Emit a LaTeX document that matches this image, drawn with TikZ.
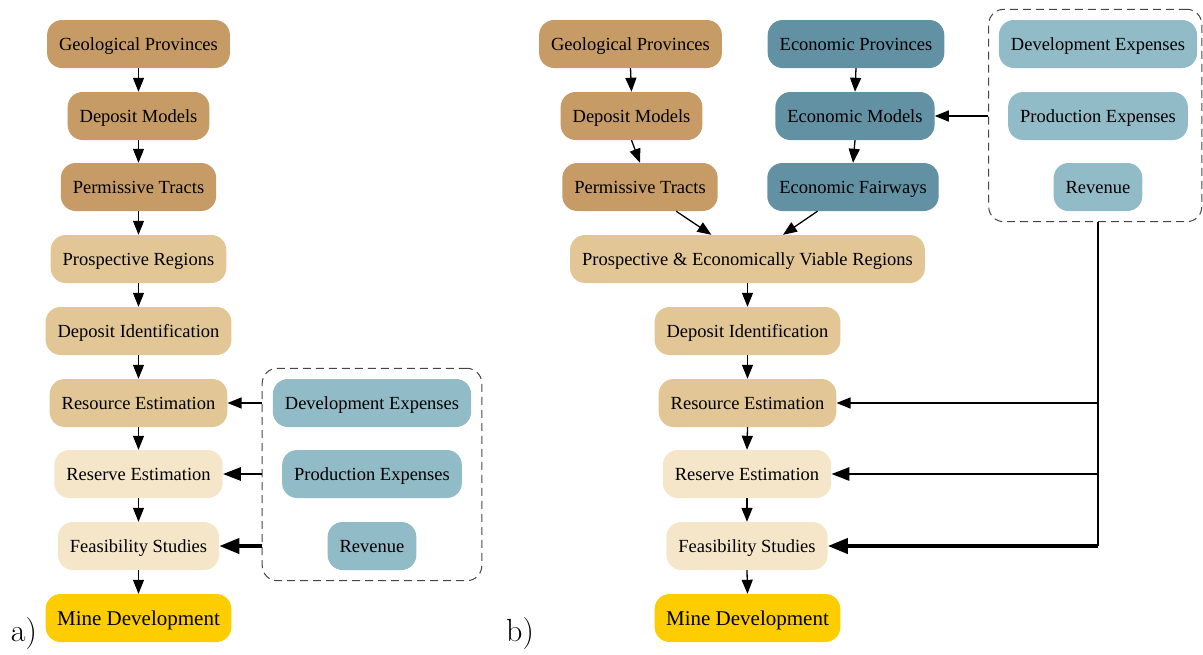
\documentclass[tikz,border=0pt]{standalone}
\usepackage{fontspec}
\newfontfamily\tnr{Liberation Serif}
\usetikzlibrary{arrows.meta,fit,calc}
\definecolor{tanDark}{RGB}{199,155,101}
\definecolor{tanMid}{RGB}{226,198,150}
\definecolor{tanLight}{RGB}{245,230,202}
\definecolor{goldc}{RGB}{254,205,0}
\definecolor{tealDark}{RGB}{97,145,163}
\definecolor{tealLight}{RGB}{146,187,200}
\definecolor{dashgray}{RGB}{70,70,70}
\tikzset{
  box/.style={rounded corners=15pt, draw=none, minimum height=48pt, inner xsep=12pt, inner ysep=0pt,
    font=\tnr\fontsize{18.5}{18.5}\selectfont, text height=12.3pt, text depth=0pt, anchor=center},
  geo/.style={box, fill=tanDark},
  mid/.style={box, fill=tanMid},
  lite/.style={box, fill=tanLight},
  mine/.style={box, fill=goldc, inner xsep=11.5pt, font=\tnr\fontsize{21}{21}\selectfont, text height=14pt},
  eco/.style={box, fill=tealDark},
  cost/.style={box, fill=tealLight},
  group/.style={draw=dashgray, line width=1pt, dash pattern=on 8pt off 5pt, rounded corners=15pt},
  arr/.style={line width=1.3pt, -{Triangle[length=14pt,width=11pt]}},
  arrM/.style={line width=2.8pt, -{Triangle[length=18pt,width=13pt]}},
  arrT/.style={line width=3.8pt, -{Triangle[length=20pt,width=15pt]}},
  panel/.style={font=\fontsize{32}{32}\selectfont}
}
\begin{document}
\begin{tikzpicture}[x=1pt,y=-1pt]
\useasboundingbox (0,0) rectangle (1203,654);
% ---------- panel a ----------
\node[geo]  (geoA)  at (138.5,44)  {Geological Provinces};
\node[geo]  (depA)  at (138.5,116) {Deposit Models};
\node[geo]  (perA)  at (138.5,187) {Permissive Tracts};
\node[mid]  (proA)  at (138.5,259) {Prospective Regions};
\node[mid]  (didA)  at (138.5,331) {Deposit Identification};
\node[mid]  (resA)  at (138.5,403) {Resource Estimation};
\node[lite] (rsvA)  at (138.5,474) {Reserve Estimation};
\node[lite] (feaA)  at (138.5,546) {Feasibility Studies};
\node[mine] (minA)  at (138.5,618) {Mine Development};
\node[cost] (devA)  at (372,403) {Development Expenses};
\node[cost] (prdA)  at (372,474) {Production Expenses};
\node[cost] (revA)  at (372,546) {Revenue};
\node[group, fit=(devA)(prdA)(revA), inner sep=10.5pt] (grpA) {};
\foreach \a/\b in {geoA/depA,depA/perA,perA/proA,proA/didA,didA/resA,resA/rsvA,rsvA/feaA,feaA/minA}
  \draw[arr] (\a.south) -- (\b.north);
\draw[arr]  (grpA.west |- resA) -- (resA.east);
\draw[arrM] (grpA.west |- rsvA) -- (rsvA.east);
\draw[arrT] (grpA.west |- feaA) -- (feaA.east);
\node[panel] (labA) at (24,634) {a)};
% ---------- panel b ----------
\node[geo]  (geoB)  at (630.5,44)  {Geological Provinces};
\node[geo]  (depB)  at (631.5,116) {Deposit Models};
\node[geo]  (perB)  at (640,187)   {Permissive Tracts};
\node[eco]  (epvB)  at (856,44)    {Economic Provinces};
\node[eco]  (emdB)  at (855,116)   {Economic Models};
\node[eco]  (efwB)  at (853,187)   {Economic Fairways};
\node[mid]  (pevB)  at (747.5,259) {Prospective \& Economically Viable Regions};
\node[mid]  (didB)  at (747.5,331) {Deposit Identification};
\node[mid]  (resB)  at (747.5,403) {Resource Estimation};
\node[lite] (rsvB)  at (747,474)   {Reserve Estimation};
\node[lite] (feaB)  at (747,546)   {Feasibility Studies};
\node[mine] (minB)  at (747.5,618) {Mine Development};
\node[cost] (devB)  at (1098,44)  {Development Expenses};
\node[cost] (prdB)  at (1098,116) {Production Expenses};
\node[cost] (revB)  at (1098,187) {Revenue};
\coordinate (bbL) at ([xshift=-10pt,yshift=10.5pt]devB.north west);
\coordinate (bbR) at ([xshift=4.5pt,yshift=-10.5pt]revB.south -| devB.east);
\node[group, fit=(bbL)(bbR), inner sep=0pt] (grpB) {};
\draw[arr] (geoB.south) -- (depB.north);
\draw[arr] (depB.south) -- (perB.north);
\draw[arr] (epvB.south) -- (emdB.north);
\draw[arr] (emdB.south) -- (efwB.north);
\draw[arr] (perB) -- (pevB);
\draw[arr] (efwB) -- (pevB);
\foreach \a/\b in {pevB/didB,didB/resB,resB/rsvB,rsvB/feaB,feaB/minB}
  \draw[arr] (\a.south) -- (\b.north);
\draw[arr] (grpB.west |- emdB) -- (emdB.east);
\coordinate (trTop) at (revB |- grpB.south);
\coordinate (trBot) at (revB |- feaB);
\draw[line width=2.2pt] (trTop) -- (trBot);
\draw[arr]  (trTop |- resB) -- (resB.east);
\draw[arrM] (trTop |- rsvB) -- (rsvB.east);
\draw[arrT] (trBot) -- (feaB.east);
\node[panel] (labB) at (520,634) {b)};
\end{tikzpicture}
\end{document}
